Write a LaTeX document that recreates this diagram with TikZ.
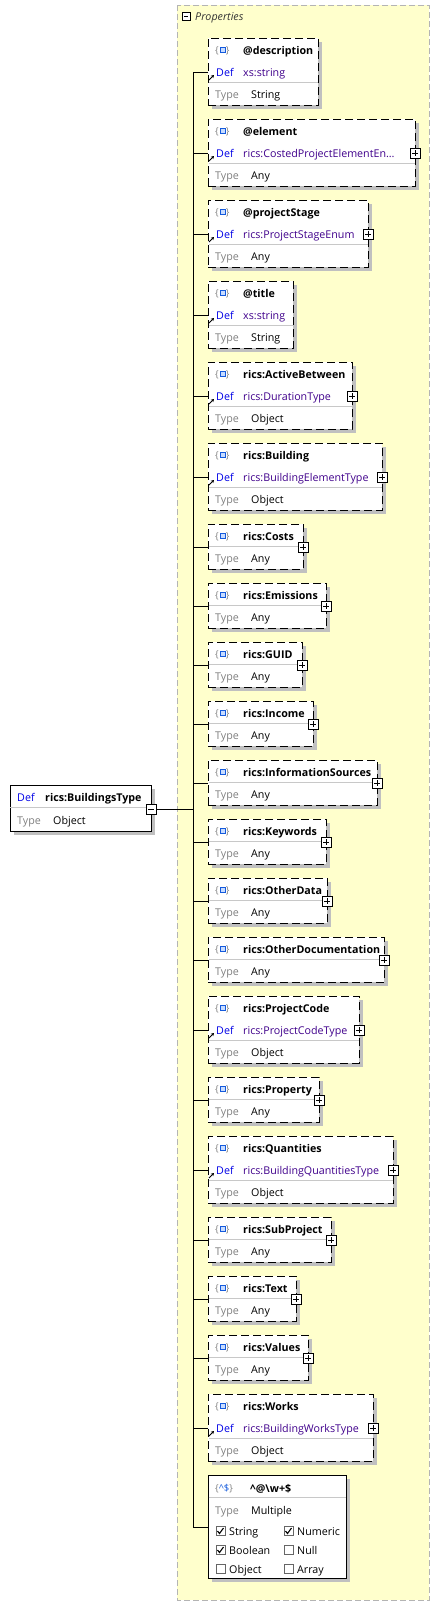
\documentclass[tikz,border=0pt]{standalone}
\usepackage{fontspec}
\setmainfont{Open Sans}
\usetikzlibrary{arrows.meta, positioning}

\definecolor{defblue}{RGB}{0,0,230}
\definecolor{defval}{RGB}{64,0,140}
\definecolor{typegray}{RGB}{128,128,128}
\definecolor{rulegray}{RGB}{200,200,200}
\definecolor{shadegray}{RGB}{192,192,192}
\definecolor{panelfill}{RGB}{255,255,204}
\definecolor{paneledge}{RGB}{180,180,180}
\definecolor{iconblue}{RGB}{20,90,220}
\definecolor{iconfill}{RGB}{200,220,255}

\newcommand{\txtsize}{\fontsize{10.7}{12}\selectfont}
\newcommand{\DefArrow}[2]{
    \draw[-{Stealth[length=3pt,width=3.5pt]}, line width=0.9pt] (#1+1,#2+8) -- ++(5,-5);
}
\newcommand{\CheckItem}[5]{
    % #1 name, #2 x, #3 y, #4 label, #5 ticked
    \node[tickbox] (#1) at (#2,#3) {};
    \ifnum#5=1
        \draw[line width=1.1pt] ([shift={(-3,0)}]#1.center) -- ++(2,2.5) -- ++(4,-5.5);
    \fi
    \node[lbl, anchor=base west] (#1txt) at (#2+8.5,#3+4) {#4};
}

\tikzset{
    wire/.style={line width=1pt},
    panel/.style={fill=panelfill, draw=paneledge, line width=1pt, dash pattern=on 6pt off 3pt},
    propbox/.style={draw, fill=white, line width=1pt, dash pattern=on 8pt off 4pt, inner sep=0pt, outer sep=0pt, anchor=north west},
    typebox/.style={draw, fill=white, line width=1pt, inner sep=0pt, outer sep=0pt, anchor=north west},
    lbl/.style={font=\txtsize, inner sep=0pt},
    deflbl/.style={lbl, text=defblue},
    typelbl/.style={lbl, text=typegray},
    plusbox/.style={draw, fill=white, line width=0.9pt, minimum size=10pt, inner sep=0pt,
        path picture={
            \draw ([xshift=2pt]path picture bounding box.west) -- ([xshift=-2pt]path picture bounding box.east);
            \draw ([yshift=-2pt]path picture bounding box.north) -- ([yshift=2pt]path picture bounding box.south);
        }},
    minusbox/.style={draw, fill=white, line width=0.9pt, minimum size=10pt, inner sep=0pt,
        path picture={
            \draw ([xshift=2pt]path picture bounding box.west) -- ([xshift=-2pt]path picture bounding box.east);
        }},
    tickbox/.style={draw=black!60, fill=white, line width=0.8pt, minimum size=9pt, inner sep=0pt},
}

\begin{document}
\begin{tikzpicture}[x=1pt, y=-1pt]
    \useasboundingbox (0,0) rectangle (440,1607);
    \fill[white] (0,0) rectangle (440,1607);

    % Properties panel
    \draw[panel] (177,5) rectangle (429,1600);
    \node[minusbox, minimum size=8pt] (pmin) at (186,16) {};
    \node[lbl, anchor=base west, font=\txtsize\itshape, text=black!80] (ptitle) at (195,20) {Properties};

    % trunk
    \coordinate (ttop) at (193,72);
    \coordinate (tbot) at (193,1527);
    \draw[wire] (ttop) -- (tbot);

    % root type
    \fill[shadegray] (14,789) rectangle (155,835);
    \node[typebox, minimum width=141pt, minimum height=46pt] (root) at (10,785) {};
    \draw[rulegray] (10,807) -- (151,807);
    \node[deflbl, anchor=base west] (rootdef) at (17,801) {Def};
    \node[lbl, anchor=base west, font=\txtsize\bfseries] (rootname) at (45,801) {rics:BuildingsType};
    \node[typelbl, anchor=base west] (roottype) at (17,824) {Type};
    \node[lbl, anchor=base west] (rootobj) at (53,824) {Object};
    \node[minusbox] (rootmin) at (151,809) {};
    \coordinate (rootj) at (193,809);
    \draw[wire] (rootmin) -- (rootj);

    % properties
    \foreach \i/\yt/\xr/\rows/\ttl/\dval/\tval/\pls in {
        1/38/318/3/@description/xs:string/String/0,
        2/119/415/3/@element/rics:CostedProjectElementEn\ldots/Any/1,
        3/200/368/3/@projectStage/rics:ProjectStageEnum/Any/1,
        4/281/293/3/@title/xs:string/String/0,
        5/362/352/3/rics:ActiveBetween/rics:DurationType/Object/1,
        6/443/382/3/rics:Building/rics:BuildingElementType/Object/1,
        7/524/303/2/rics:Costs/-/Any/1,
        8/583/326/2/rics:Emissions/-/Any/1,
        9/642/302/2/rics:GUID/-/Any/1,
        10/701/313/2/rics:Income/-/Any/1,
        11/760/377/2/rics:InformationSources/-/Any/1,
        12/819/326/2/rics:Keywords/-/Any/1,
        13/878/327/2/rics:OtherData/-/Any/1,
        14/937/384/2/rics:OtherDocumentation/-/Any/1,
        15/996/359/3/rics:ProjectCode/rics:ProjectCodeType/Object/1,
        16/1077/319/2/rics:Property/-/Any/1,
        17/1136/393/3/rics:Quantities/rics:BuildingQuantitiesType/Object/1,
        18/1217/331/2/rics:SubProject/-/Any/1,
        19/1276/296/2/rics:Text/-/Any/1,
        20/1335/308/2/rics:Values/-/Any/1,
        21/1394/373/3/rics:Works/rics:BuildingWorksType/Object/1}{
        \pgfmathsetmacro\bh{\rows==3 ? 67 : 45}
        \pgfmathsetmacro\bw{\xr-208}
        \pgfmathsetmacro\cy{\yt+(\rows==3 ? 34 : 23)}
        \pgfmathsetmacro\ry{\yt+(\rows==3 ? 44 : 22)}
        \pgfmathsetmacro\tyy{\yt+(\rows==3 ? 56 : 34)}
        \fill[shadegray] (212,\yt+4) rectangle (\xr+4,\yt+\bh+4);
        \node[propbox, minimum width=\bw pt, minimum height=\bh pt] (box\i) at (208,\yt) {};
        \draw[rulegray] (208.5,\ry) -- (\xr-0.5,\ry);
        % icon
        \node[lbl, anchor=base west, font=\fontsize{9.5}{10}\selectfont, text=typegray] (ic\i) at (215,\yt+15.5) {\{\hspace{7pt}\}};
        \draw[iconblue, fill=iconfill, line width=0.8pt] (220.5,\yt+9) rectangle (225.5,\yt+14);
        \node[lbl, anchor=base west, font=\txtsize\bfseries] (name\i) at (243,\yt+16) {\ttl};
        \ifnum\rows=3
            \node[deflbl, anchor=base west] (def\i) at (216,\cy+4) {Def};
            \node[lbl, anchor=base west, text=defval] (dv\i) at (243,\cy+4) {\dval};
            \DefArrow{208}{\cy}
        \fi
        \node[typelbl, anchor=base west] (type\i) at (215,\tyy+4) {Type};
        \node[lbl, anchor=base west] (tv\i) at (251,\tyy+4) {\tval};
        \ifnum\pls=1
            \node[plusbox] (pb\i) at (\xr,\cy) {};
        \fi
        \coordinate (j\i) at (193,\cy);
        \draw[wire] (j\i) -- (j\i -| box\i.west);
    }

    % pattern property
    \fill[shadegray] (212,1479) rectangle (350,1582);
    \node[typebox, minimum width=138pt, minimum height=103pt] (patbox) at (208,1475) {};
    \draw[rulegray] (208.5,1497) -- (345.5,1497);
    \node[lbl, anchor=base west, font=\fontsize{9.5}{10}\selectfont] (patic) at (215,1491.5)
        {\textcolor{typegray}{\{}\textcolor{iconblue}{\textasciicircum\$}\textcolor{typegray}{\}}};
    \node[lbl, anchor=base west, font=\txtsize\bfseries] (patname) at (250,1492) {\textasciicircum@\textbackslash w+\$};
    \node[typelbl, anchor=base west] (pattype) at (215,1514) {Type};
    \node[lbl, anchor=base west] (patmult) at (251,1514) {Multiple};
    \CheckItem{cstr}{220.5}{1531}{String}{1}
    \CheckItem{cnum}{288.5}{1531}{Numeric}{1}
    \CheckItem{cbool}{220.5}{1550}{Boolean}{1}
    \CheckItem{cnull}{288.5}{1550}{Null}{0}
    \CheckItem{cobj}{220.5}{1569}{Object}{0}
    \CheckItem{carr}{288.5}{1569}{Array}{0}
    \coordinate (patj) at (193,1527);
    \draw[wire] (patj) -- (patj -| patbox.west);
\end{tikzpicture}
\end{document}
